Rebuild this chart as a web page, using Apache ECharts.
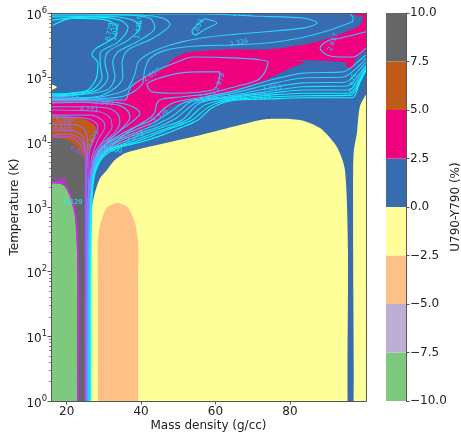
<!DOCTYPE html>
<html><head><meta charset="utf-8">
<style>html,body{margin:0;padding:0;background:#fff}#c{width:461px;height:435px;filter:blur(0.3px)}</style>
<script src="https://cdn.jsdelivr.net/npm/echarts@6/dist/echarts.min.js"></script>
</head><body><div id="c"></div>
<script>
// Axis values
const densityRange = [15.8, 100.45];
const densityTicks = [20, 40, 60, 80];
const tempDecades = [1, 10, 100, 1000, 10000, 100000, 1000000];
const tempMinor = [];
tempDecades.slice(0, 6).forEach(d => [2,3,4,5,6,7,8,9].forEach(m => tempMinor.push(d * m)));

// Colour-bar bands, low to high (%)
const bandEdges = [-10, -7.5, -5, -2.5, 0, 2.5, 5, 7.5, 10];
const bandColors = ['#7FC97F','#BEAED4','#FDC086','#FFFF99','#386CB0','#F0027F','#BF5B17','#666666'];

// Filled regions: [mass density, log10 temperature]
const regionBase = [[13,6.3],[104,6.3],[104,-0.4],[13,-0.4]];
const regionBlue = [[13,6.3],[104,6.3],[104,5.0],[100.7,4.76],[98.8,4.55],[98,4.14],[97.2,3.88],[97,3.57],[97,2.33],[97,-0.3],[95.6,-0.3],[95.6,2.33],[94.8,3.57],[92.6,3.93],[88.1,4.22],[82.7,4.345],[73.8,4.36],[64.7,4.24],[55.8,4.11],[44.3,3.96],[36,3.84],[33,3.73],[30.8,3.57],[29,3.45],[27.6,3.22],[26.6,2.91],[26.5,1.87],[26.5,-0.3],[26.5,-0.55],[26.5,-0.6],[13,-0.6],[13,6.2]];
const regionPink = [[13,4.66],[26.3,4.66],[35,4.67],[37.3,4.81],[38.9,4.96],[42.4,5.06],[45.6,5.12],[48.3,5.27],[51.8,5.38],[55.8,5.41],[63.9,5.44],[74.6,5.44],[86.2,5.54],[94.3,5.69],[98.8,5.81],[99.6,5.94],[95.6,6.0],[95.3,6.1],[103,6.1],[103,5.43],[100.7,5.43],[97.5,5.27],[97,5.15],[95.3,5.165],[94.8,5.24],[80.6,5.27],[84,5.24],[80.8,5.165],[74.6,4.995],[69.3,4.87],[63.9,4.78],[58.5,4.7],[50.5,4.61],[47.8,4.55],[44.3,4.345],[41.6,4.22],[37.8,4.08],[34.3,3.96],[30.3,3.8],[27.9,3.65],[26.3,3.5],[25.2,3.5],[23.6,3.73],[13,3.73]];
const regionBrown = [[13,4.38],[24.4,4.37],[27.1,4.284],[28.1,4.2],[27.6,4.07],[26.3,3.88],[25.5,3.73],[25.2,3.57],[23.6,3.5],[13,3.5]];
const regionGrey = [[13,4.04],[20.1,4.04],[23,3.91],[24.9,3.73],[25.5,3.57],[24.9,3.42],[24.9,-0.3],[24.9,-0.55],[24.9,-0.6],[13,-0.6]];
const regionGreen = [[13,3.36],[19,3.34],[20.9,3.155],[22.2,2.85],[22.8,2.29],[22.85,1.87],[22.8,-0.3],[22.8,-0.55],[22.8,-0.6],[13,-0.6]];
const regionOrange = [[28.4,-0.6],[28.4,-0.55],[28.4,-0.3],[28.4,1.87],[28.4,2.44],[29,2.72],[30.8,2.99],[33.8,3.06],[36.5,2.99],[38.4,2.75],[39.2,2.44],[39.2,1.87],[39.2,-0.3],[39.2,-0.55],[39.2,-0.6]];
const regionSpot = [[13,4.88],[16.05,4.89],[17.4,4.855],[16.05,4.81],[13,4.81]];

// Contour lines: [mass density, log10 temperature]
const lineA = [[16.3,5.81],[21.7,5.92],[30.8,5.89],[33.5,5.78],[33,5.63],[28.1,5.46],[26.8,5.35],[28.4,5.23],[28.1,5.01],[25.7,4.81],[20.9,4.76],[16.05,4.75]];
const lineB = [[16.05,5.89],[26.3,5.94],[34.3,5.89],[36.5,5.77],[33.8,5.55],[29,5.38],[29,5.23],[29.5,5.01],[26.8,4.81],[20.9,4.75],[16.05,4.73]];
const lineC = [[16.05,5.94],[30.8,5.95],[37.8,5.89],[39.7,5.78],[36.5,5.58],[31.1,5.4],[30.3,5.24],[31.1,5.01],[28.4,4.81],[20.9,4.73],[16.05,4.72]];
const lineD = [[16.05,5.97],[35.1,5.97],[42.4,5.92],[43.7,5.77],[39.7,5.58],[33.8,5.4],[32.4,5.24],[33,5.01],[30.8,4.81],[20.9,4.72],[16.05,4.7]];
const lineE = [[16.05,5.985],[39.7,5.97],[45.9,5.92],[47.8,5.83],[43.2,5.61],[36.5,5.43],[34.9,5.23],[35.1,5.01],[33,4.84],[27.6,4.7],[16.05,4.685]];
const lineF = [[42.4,5.985],[55.8,5.985],[72,5.95],[84,5.92],[87.3,5.845],[84,5.77],[69.3,5.69],[55.8,5.61],[47.8,5.505],[42.4,5.38],[39.2,5.24],[38.4,5.07],[36.5,4.84],[33,4.75],[27.6,4.69],[16.05,4.67]];
const lineG = [[96,6],[97,5.92],[96.7,5.86],[86.2,5.66],[74.6,5.54],[63.9,5.505],[55,5.49],[47,5.43],[42.4,5.3],[41,5.12],[40.2,4.89],[35.7,4.72],[27.6,4.67],[16.05,4.66]];
const lineH = [[57.2,5.91],[60.4,5.845],[57.2,5.75],[54.5,5.66],[53.7,5.72],[55.3,5.83],[57.2,5.91]];
const lineI = [[16.05,4.655],[27.6,4.655],[35.7,4.655],[37,4.84],[39.7,4.96],[44.5,5.12],[50.5,5.26],[53.7,5.32],[74.1,5.24],[73.3,5.09],[71.2,4.96],[63.9,4.84],[58.5,4.76],[50.5,4.7],[45.6,4.67],[44.3,4.61],[43.7,4.47],[42.4,4.38],[36.5,4.16],[30.8,3.88],[27.6,3.62],[26.5,3.26],[26,2.645],[25.7,0]];
const lineJ = [[61.2,5.09],[55,5.09],[47.8,5.04],[41.6,4.89],[42.9,4.78],[48.6,4.76],[59.3,4.81],[60.7,4.92],[61.2,5.09]];
const lineK = [[100.45,5.71],[93.5,5.61],[90.2,5.57],[88.1,5.46],[90,5.35],[93.5,5.32],[97,5.32],[100.45,5.46]];
const lineP1 = [[16.05,4.64],[28.1,4.64],[34.3,4.61],[37.8,4.55],[39.7,4.45],[36.5,4.27],[30.8,4.01],[27.3,3.65],[26.3,3.26],[25.7,2.49],[25.65,0]];
const lineP2 = [[16.05,4.61],[24.4,4.62],[27.1,4.61],[33.5,4.58],[36.2,4.5],[37,4.38],[34.9,4.22],[30.3,3.96],[27.6,3.7],[26.5,3.34],[25.7,2.49],[25.6,0]];
const lineP3 = [[16.05,4.55],[23.6,4.55],[30.8,4.53],[33.5,4.45],[34.3,4.315],[33,4.16],[29.8,3.99],[27.6,3.77],[26.8,3.54],[25.7,2.645],[25.5,0]];
const lineP4 = [[16.05,4.5],[29,4.47],[31.6,4.38],[32.2,4.24],[30.3,4.07],[27.6,3.835],[26.8,3.6],[25.7,2.645],[25.4,0]];
const lineP5 = [[16.05,4.42],[26.3,4.42],[29.5,4.345],[30.3,4.24],[28.4,4.04],[26.8,3.77],[26.5,3.6],[25.6,2.645],[25.3,0]];
const lineP6 = [[16.3,4.39],[24.4,4.38],[27.6,4.315],[28.4,4.22],[27.1,4.04],[26,3.77],[26,3.6],[25.5,2.645],[25.2,0]];
const lineQ1 = [[16.05,4.28],[21.7,4.28],[24.9,4.19],[25.7,3.96],[25.5,3.57],[25.3,2.645],[25.2,0]];
const lineQ2 = [[16.05,4.19],[20.9,4.19],[24.1,4.11],[24.9,3.93],[25.2,3.57],[25.2,2.645],[25.1,0]];
const lineQ3 = [[16.05,4.11],[20.9,4.13],[24.1,4.01],[25.2,3.77],[25.2,3.1],[25.1,0]];
const lineR = [[16.05,4.08],[20.9,4.08],[24.4,3.91],[25.1,3.75],[25,3.1],[25,0]];
const lineS = [[16.05,3.37],[19,3.37],[21.1,3.17],[22.5,2.85],[23,2.29],[23.2,1.56],[23.1,0]];
const lineC1 = [[100.45,5.35],[98.8,5.27],[94.3,5.09],[83.5,5.07],[74.6,4.96],[63.9,4.78],[55.8,4.69],[49.1,4.62],[46.4,4.53],[42.9,4.345],[37.8,4.22],[33.3,4.08],[29.5,3.93],[27.9,3.77],[26.9,3.57],[26.1,3.34],[25.7,2.88],[25.6,1.87],[25.7,0]];
const lineC2 = [[100.45,5.3],[98.8,5.196],[94.3,5.01],[83.5,4.995],[74.6,4.9],[63.9,4.75],[55.8,4.67],[51.3,4.61],[47.8,4.47],[43.7,4.315],[38.4,4.19],[33.8,4.07],[30,3.93],[28.1,3.77],[27.1,3.57],[26.3,3.34],[25.9,2.88],[25.7,1.87],[25.8,0]];
const lineC3 = [[100.45,5.24],[98.8,5.135],[94.8,4.93],[83.5,4.92],[74.6,4.84],[63.9,4.72],[55.8,4.655],[53.1,4.62],[48.6,4.41],[44.3,4.28],[38.9,4.16],[34.3,4.05],[30.3,3.91],[28.4,3.77],[27.2,3.57],[26.4,3.34],[26,2.88],[25.9,1.87],[25.9,0]];
const lineC4 = [[100.45,5.19],[98.8,5.07],[95.3,4.87],[83.5,4.86],[74.6,4.79],[63.9,4.7],[55,4.62],[49.6,4.38],[45.1,4.25],[39.7,4.144],[34.9,4.04],[30.8,3.9],[28.7,3.77],[27.3,3.57],[26.5,3.34],[26.1,2.88],[26,1.87],[26,0]];
const lineC5 = [[100.45,5.165],[98.8,5.03],[95.9,4.81],[83.5,4.81],[74.6,4.76],[63.9,4.69],[55.8,4.61],[51,4.345],[46.2,4.24],[40.8,4.13],[35.7,4.02],[31.4,3.9],[29,3.77],[27.5,3.57],[26.7,3.34],[26.3,2.88],[26.1,1.87],[26.1,0]];
const lineC6 = [[100.45,5.14],[98.8,4.98],[96.2,4.76],[83.5,4.76],[74.6,4.73],[63.9,4.67],[57.2,4.58],[52.3,4.345],[47.2,4.22],[41.9,4.11],[36.5,4],[31.9,3.9],[29.2,3.77],[27.6,3.57],[26.8,3.34],[26.4,2.88],[26.3,1.87],[26.3,0]];
const lineC7 = [[100.45,5.13],[98.8,4.95],[96.4,4.73],[83.5,4.72],[74.6,4.7],[63.9,4.655],[58.5,4.56],[53.7,4.345],[48.3,4.22],[42.9,4.1],[37.5,3.99],[32.4,3.91],[29.5,3.77],[27.7,3.57],[26.9,3.34],[26.5,2.88],[26.4,1.87],[26.4,0]];
const lineC8 = [[100.45,5.115],[98.8,4.93],[96.7,4.69],[83.5,4.69],[74.6,4.67],[63.9,4.64],[59,4.53],[55.3,4.345],[50.5,4.22],[45.1,4.1],[39.7,4],[33.5,3.91],[29.8,3.77],[27.9,3.57],[27.1,3.34],[26.7,2.88],[26.5,1.87],[26.5,0]];

// Contour levels paired with their lines
const contours = [
  [0.8,lineA],[1.0,lineB],[1.2,lineC],[1.44,lineD],[1.65,lineE],[2.07,lineF],[2.34,lineG],[1.85,lineH],
  [2.2,lineC1],[2.07,lineC2],[1.85,lineC3],[1.6,lineC4],[1.44,lineC5],[1.12,lineC6],[0.8,lineC7],[0.5,lineC8],
  [2.657,lineI],[2.978,lineJ],[2.657,lineK],
  [3.0,lineP1],[3.3,lineP2],[3.6,lineP3],[4.28,lineP4],[4.6,lineP5],[5.0,lineP6],
  [5.46,lineQ1],[5.78,lineQ2],[5.95,lineQ3],[6.6,lineR],[8.19,lineS]
];

// Inline contour labels: density, log10 T, text, tone (level), tilt in degrees
const contourLabels = [
  [42.9,5.04,'2.657',2.66,35],[26,4.515,'4.281',4.28,-2],[30,4.61,'3.960',3.96,-3],[20.9,4.67,'3.636',3.6,0],
  [19.5,4.345,'5.456',5.46,0],[18.7,4.27,'5.778',5.78,0],[19,4.19,'5.952',5.95,0],[45.1,4.41,'3.336',3.34,35],
  [55.3,5.77,'1.833',1.83,65],[39.4,5.74,'1.438',1.44,78],[39.7,5.95,'1.650',1.65,85],[31.6,5.71,'0.729',0.73,80],
  [33.2,5.71,'1.012',1.01,80],[32.4,3.88,'0.800',0.8,-5],[23.3,3.85,'6.623',6.6,-25],[27.1,4.04,'4.623',4.6,60],
  [67.1,5.985,'2.069',2.07,0],[66.3,5.54,'2.336',2.34,12],[61.2,4.93,'2.978',2.98,70],[91.6,5.55,'2.657',2.66,70],
  [58,4.7,'2.065',2.07,8],[65.8,4.69,'1.443',1.44,0],[72.5,4.7,'1.125',1.12,0],[75.2,4.84,'1.853',1.85,3],
  [38.4,4.08,'2.243',2.24,25],[21.7,3.08,'6.129',0.6,0],[17.4,3.42,'8.188',8.19,0],[97,4.92,'0.875',0.88,80]
];

const FONT = 'DejaVu Sans';
const INK = '#222';
const FRAME = '#555';
const gridMain = {left:51, top:13, width:315, height:388, outerBoundsMode:'none', containLabel:false};
const gridBar = {left:386, top:13, width:20, height:388, outerBoundsMode:'none', containLabel:false};
const toneColor = v => {
  const t = Math.max(0, Math.min(1, (v - 0.4) / 9));
  return 'rgb(' + Math.round(255*t) + ',' + Math.round(255*(1-t)) + ',255)';
};
const toPair = p => [p[0], Math.pow(10, p[1])];

const regions = [
  [regionBase, 3], [regionBlue, 4], [regionPink, 5], [regionBrown, 6], [regionGrey, 7],
  [regionGreen, 0], [regionOrange, 2], [regionSpot, 3]
];

const sup = v => '{b|10}{s|' + Math.round(Math.log10(v)) + '}';
const labelRich = {
  b:{fontFamily:FONT,fontSize:12,color:INK,padding:[5,0,0,0]},
  s:{fontFamily:FONT,fontSize:8.4,color:INK,padding:[0,0,5,0]}
};

const option = {
  animation:false,
  backgroundColor:'#fff',
  textStyle:{fontFamily:FONT},
  grid:[gridMain, gridBar],
  xAxis:[
    {type:'value',gridIndex:0,min:densityRange[0],max:densityRange[1],z:10,
     name:'Mass density (g/cc)',nameLocation:'middle',nameGap:19,nameMoveOverlap:false,nameTextStyle:{fontFamily:FONT,fontSize:12,color:INK},
     splitLine:{show:false},axisLine:{onZero:false,lineStyle:{color:FRAME,width:1}},
     axisTick:{length:3.5,lineStyle:{color:FRAME},customValues:densityTicks},
     axisLabel:{customValues:densityTicks,fontFamily:FONT,fontSize:12,color:INK,margin:5,formatter:v=>String(v)}},
    {type:'value',gridIndex:0,position:'top',min:densityRange[0],max:densityRange[1],z:10,
     splitLine:{show:false},axisTick:{show:false},axisLabel:{show:false},axisLine:{onZero:false,lineStyle:{color:FRAME,width:1}}},
    {type:'value',gridIndex:1,min:0,max:1,show:false}
  ],
  yAxis:[
    {type:'log',logBase:10,gridIndex:0,position:'left',min:1,max:1000000,z:10,
     name:'Temperature (K)',nameLocation:'middle',nameGap:30,nameMoveOverlap:false,nameRotate:90,nameTextStyle:{fontFamily:FONT,fontSize:12,color:INK},
     splitLine:{show:false},axisLine:{onZero:false,lineStyle:{color:FRAME,width:1}},
     axisTick:{length:3.5,lineStyle:{color:FRAME},customValues:tempDecades},
     axisLabel:{customValues:tempDecades,margin:4,formatter:sup,rich:labelRich}},
    {type:'log',logBase:10,gridIndex:0,position:'left',min:1,max:1000000,z:10,
     splitLine:{show:false},axisLine:{show:false,onZero:false},axisLabel:{show:false},
     axisTick:{length:2,lineStyle:{color:FRAME,width:0.7},customValues:tempMinor}},
    {type:'log',logBase:10,gridIndex:0,min:1,max:1000000,position:'right',z:10,
     splitLine:{show:false},axisTick:{show:false},axisLabel:{show:false},axisLine:{onZero:false,show:true,lineStyle:{color:FRAME,width:1}}},
    {type:'value',gridIndex:1,position:'right',min:-10,max:10,interval:2.5,z:10,
     name:'U790-Y790 (%)',nameLocation:'middle',nameGap:44,nameMoveOverlap:false,nameRotate:90,nameTextStyle:{fontFamily:FONT,fontSize:12,color:INK},
     splitLine:{show:false},axisLine:{show:true,onZero:false,lineStyle:{color:FRAME,width:1}},
     axisTick:{show:true,length:3.5,lineStyle:{color:FRAME}},
     axisLabel:{fontFamily:FONT,fontSize:12,color:INK,margin:4,padding:[3,0,0,0],formatter:v=>(v<0?'\u2212':'')+Math.abs(v).toFixed(1)}}
  ],
  series:[
    {type:'custom',xAxisIndex:0,yAxisIndex:0,clip:true,silent:true,z:2,
     data:regions.map((r,i)=>[i]),encode:{},
     renderItem:(params,api)=>{
       const r = regions[api.value(0)];
       return {type:'polygon',shape:{points:r[0].map(p=>api.coord(toPair(p))),smooth:0.25},
               style:{fill:bandColors[r[1]],stroke:null}};
     }},
    ...contours.map(c=>({type:'line',xAxisIndex:0,yAxisIndex:0,silent:true,z:3,symbol:'none',smooth:0.3,
       data:c[1].map(toPair),lineStyle:{color:toneColor(c[0]),width:c[0]>8?1.5:1.1}})),
    {type:'custom',xAxisIndex:0,yAxisIndex:0,clip:true,silent:true,z:4,
     data:contourLabels.map((r,i)=>[i]),encode:{},
     renderItem:(params,api)=>{
       const l = contourLabels[api.value(0)];
       const c = api.coord(toPair(l));
       return {type:'text',x:c[0],y:c[1],rotation:l[4]*Math.PI/180,
               style:{text:l[2],fill:toneColor(l[3]),font:'6.6px "DejaVu Sans"',align:'center',verticalAlign:'middle'}};
     }},
    {type:'custom',xAxisIndex:2,yAxisIndex:3,clip:true,silent:true,z:2,
     data:bandColors.map((c,i)=>[i]),encode:{},
     renderItem:(params,api)=>{
       const i = api.value(0);
       const a = api.coord([0,bandEdges[i]]), b = api.coord([1,bandEdges[i+1]]);
       return {type:'rect',shape:{x:a[0],y:b[1],width:b[0]-a[0],height:a[1]-b[1]},style:{fill:bandColors[i]}};
     }}
  ]
};
echarts.init(document.getElementById('c'),null,{renderer:'canvas'}).setOption(option);
</script></body></html>
